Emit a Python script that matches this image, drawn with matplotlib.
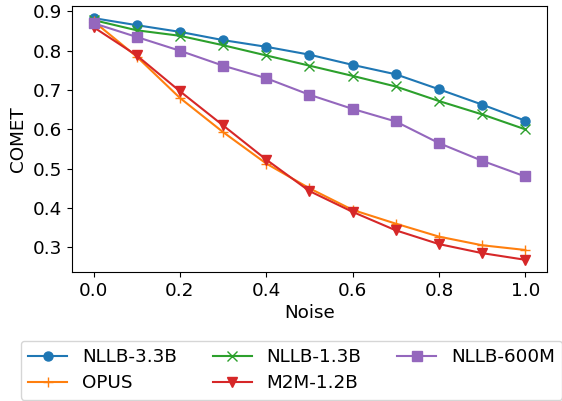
import matplotlib
matplotlib.use("Agg")
import matplotlib.pyplot as plt

noise = [0.0, 0.1, 0.2, 0.3, 0.4, 0.5, 0.6, 0.7, 0.8, 0.9, 1.0]
nllb_33b = [0.883, 0.865, 0.848, 0.827, 0.810, 0.790, 0.764, 0.740, 0.702, 0.663, 0.622]
nllb_13b = [0.878, 0.852, 0.838, 0.814, 0.788, 0.762, 0.736, 0.709, 0.672, 0.638, 0.600]
nllb_600m = [0.870, 0.835, 0.800, 0.762, 0.730, 0.688, 0.652, 0.620, 0.565, 0.520, 0.480]
opus = [0.875, 0.785, 0.680, 0.593, 0.513, 0.450, 0.395, 0.360, 0.327, 0.305, 0.293]
m2m = [0.860, 0.788, 0.697, 0.610, 0.523, 0.443, 0.390, 0.343, 0.308, 0.285, 0.268]

plt.rcParams['font.size'] = 13.2
fig, ax = plt.subplots(figsize=(5.62, 4.01), dpi=100)
ax.plot(noise, nllb_33b, marker='o', color='#1f77b4', label='NLLB-3.3B', markersize=6.5)
ax.plot(noise, opus, marker='+', color='#ff7f0e', label='OPUS', markersize=7.5)
ax.plot(noise, nllb_13b, marker='x', color='#2ca02c', label='NLLB-1.3B', markersize=6.5)
ax.plot(noise, m2m, marker='v', color='#d62728', label='M2M-1.2B', markersize=6.5)
ax.plot(noise, nllb_600m, marker='s', color='#9467bd', label='NLLB-600M', markersize=6.5)
ax.set_xlabel('Noise', labelpad=3)
ax.set_ylabel('COMET')
ax.set_yticks([0.3, 0.4, 0.5, 0.6, 0.7, 0.8, 0.9])
ax.set_xticks([0.0, 0.2, 0.4, 0.6, 0.8, 1.0])
fig.subplots_adjust(left=0.128, right=0.973, top=0.985, bottom=0.322)
ax.legend(loc='upper left', bbox_to_anchor=(-0.108, -0.259), borderaxespad=0,
          ncol=3, frameon=True, handlelength=2.15, columnspacing=1.94, labelspacing=0.45)
fig.savefig('out.png', dpi=100)
